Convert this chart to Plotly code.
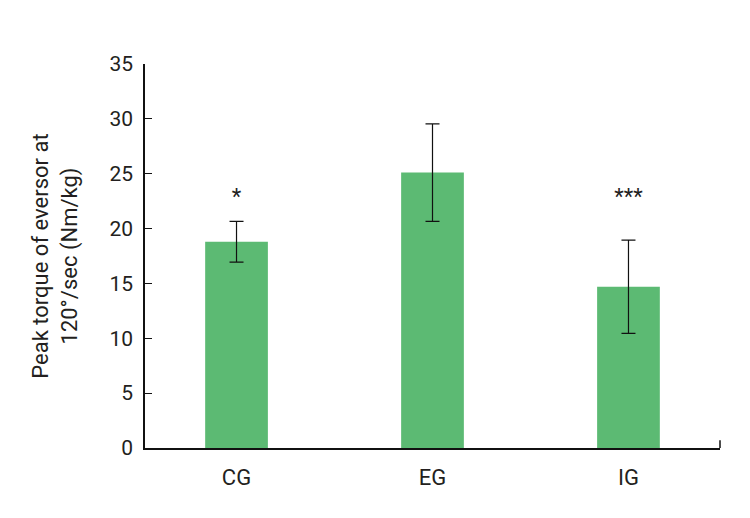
import plotly.graph_objects as go

categories = ["CG", "EG", "IG"]
means = [18.8, 25.1, 14.7]
errors = [1.85, 4.45, 4.25]
marks = ["*", "", "***"]
mark_y = [22.7, 22.7, 22.7]
y_ticks = [0, 5, 10, 15, 20, 25, 30, 35]

font_family = "Roboto, Liberation Sans, sans-serif"

fig = go.Figure()
fig.add_trace(go.Bar(
    x=categories, y=means, width=0.32,
    marker=dict(color="#5cba73", line=dict(width=0)),
    error_y=dict(type="data", array=errors, visible=True, color="#111111",
                 thickness=1.2, width=7),
))
fig.add_trace(go.Scatter(
    x=categories, y=mark_y, mode="text", text=marks,
    textfont=dict(family=font_family, size=22, color="#222222"),
    textposition="middle center", hoverinfo="skip",
))

fig.add_shape(type="line", xref="paper", yref="paper", x0=1, x1=1, y0=0, y1=0.02,
              line=dict(color="#111111", width=1.5))

fig.update_layout(
    width=750, height=518,
    margin=dict(l=137, r=38, t=56, b=78),
    paper_bgcolor="white", plot_bgcolor="white",
    showlegend=False,
    font=dict(family=font_family, color="#231f20"),
    xaxis=dict(
        range=[-0.467, 2.467], showline=True, linecolor="#111111", linewidth=1.5,
        ticks="", tickfont=dict(size=22, family=font_family), showgrid=False,
        zeroline=False, ticklabelstandoff=9,
    ),
    yaxis=dict(
        range=[0, 35], tickvals=y_ticks, showline=True, linecolor="#111111", linewidth=1.5,
        ticks="inside", ticklen=7, tickcolor="#111111", tickwidth=1.2,
        tickfont=dict(size=21, family=font_family), ticklabelstandoff=6,
        showgrid=False, zeroline=False,
        title=dict(text="Peak torque of eversor at<br>120°/sec (Nm/kg)",
                   font=dict(size=22, family=font_family), standoff=26),
    ),
)

fig.write_html("out.html")
